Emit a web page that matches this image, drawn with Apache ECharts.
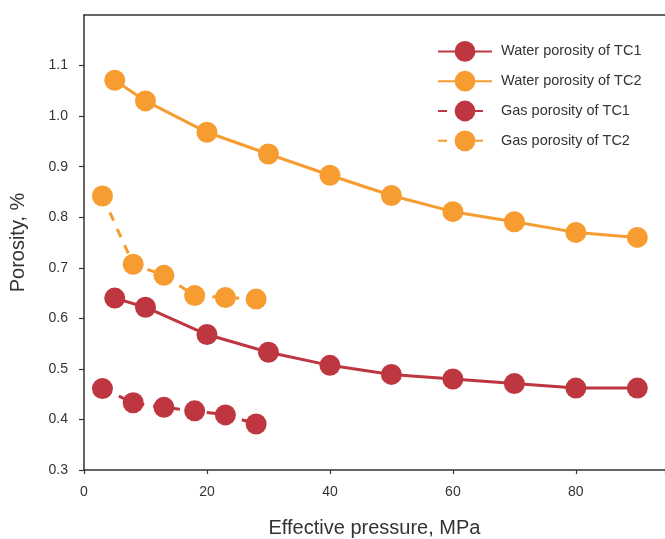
<!DOCTYPE html>
<html>
<head>
<meta charset="utf-8">
<script src="https://cdn.jsdelivr.net/npm/echarts@6/dist/echarts.min.js"></script>
<style>
  html, body { margin: 0; padding: 0; background: #fff; }
  #chart { width: 665px; height: 539px; }
</style>
</head>
<body>
<div id="chart"></div>
<script>
// Effective pressure (MPa) for each measurement set
const waterPressure = [5, 10, 20, 30, 40, 50, 60, 70, 80, 90];
const gasPressure = [3, 8, 13, 18, 23, 28];

// Porosity (%)
const waterTC1 = [0.640, 0.622, 0.568, 0.533, 0.507, 0.489, 0.480, 0.471, 0.462, 0.462];
const waterTC2 = [1.071, 1.030, 0.968, 0.925, 0.883, 0.843, 0.811, 0.791, 0.770, 0.760];
const gasTC1 = [0.461, 0.433, 0.424, 0.417, 0.409, 0.391];
const gasTC2 = [0.842, 0.707, 0.685, 0.645, 0.641, 0.638];

const seriesNames = ['Water porosity of TC1', 'Water porosity of TC2', 'Gas porosity of TC1', 'Gas porosity of TC2'];

const RED = '#BD3640';
const ORANGE = '#F79C31';
const FONT = 'Liberation Sans, Arial, Helvetica, sans-serif';

function pairs(xs, ys) { return xs.map((x, i) => [x, ys[i]]); }

function lineSeries(name, xs, ys, color, dashed) {
  return {
    name: name,
    type: 'line',
    data: pairs(xs, ys),
    symbol: 'circle',
    symbolSize: 21,
    showAllSymbol: true,
    itemStyle: { color: color },
    lineStyle: { color: color, width: 3, type: dashed ? [9, 9] : 'solid' },
    emphasis: { disabled: true },
    animation: false,
    z: 2
  };
}

const chart = echarts.init(document.getElementById('chart'), null, { renderer: 'canvas' });
chart.setOption({
  backgroundColor: '#fff',
  animation: false,
  grid: { left: 84, top: 15, right: 0, bottom: 69, containLabel: false, outerBoundsMode: 'none' },
  legend: {
    data: seriesNames,
    orient: 'vertical',
    left: 432,
    top: 36,
    itemWidth: 54,
    itemHeight: 26,
    itemGap: 9,
    textStyle: { fontFamily: FONT, fontSize: 14.5, color: '#333', padding: [0, 0, 0, 4] },
    selectedMode: false
  },
  xAxis: [{
    type: 'value',
    min: 0,
    max: 94.5,
    interval: 20,
    name: 'Effective pressure, MPa',
    nameLocation: 'middle',
    nameGap: 48,
    nameTextStyle: { fontFamily: FONT, fontSize: 20, color: '#333' },
    axisLine: { show: true, onZero: false, lineStyle: { color: '#333', width: 1.5 } },
    axisTick: { show: true, inside: false, length: 4, lineStyle: { color: '#333', width: 1.2 } },
    axisLabel: {
      fontFamily: FONT, fontSize: 14, color: '#333', margin: 15,
      formatter: v => (v % 20 === 0 ? String(v) : '')
    },
    splitLine: { show: false }
  }, {
    type: 'value',
    position: 'top',
    min: 0,
    max: 94.5,
    axisLine: { show: true, lineStyle: { color: '#333', width: 1.5 } },
    axisTick: { show: false },
    axisLabel: { show: false },
    splitLine: { show: false }
  }],
  yAxis: {
    type: 'value',
    min: 0.3,
    max: 1.2,
    interval: 0.1,
    name: 'Porosity, %',
    nameLocation: 'middle',
    nameGap: 56,
    nameTextStyle: { fontFamily: FONT, fontSize: 20, color: '#333' },
    axisLine: { show: true, onZero: false, lineStyle: { color: '#333', width: 1.5 } },
    axisTick: { show: true, inside: false, length: 5, lineStyle: { color: '#333', width: 1.2 } },
    axisLabel: {
      fontFamily: FONT, fontSize: 14, color: '#333', margin: 16,
      showMaxLabel: false,
      formatter: v => (v > 1.15 ? '' : v.toFixed(1))
    },
    splitLine: { show: false }
  },
  series: [
    lineSeries(seriesNames[0], waterPressure, waterTC1, RED, false),
    lineSeries(seriesNames[1], waterPressure, waterTC2, ORANGE, false),
    lineSeries(seriesNames[2], gasPressure, gasTC1, RED, true),
    lineSeries(seriesNames[3], gasPressure, gasTC2, ORANGE, true)
  ]
});
</script>
</body>
</html>
